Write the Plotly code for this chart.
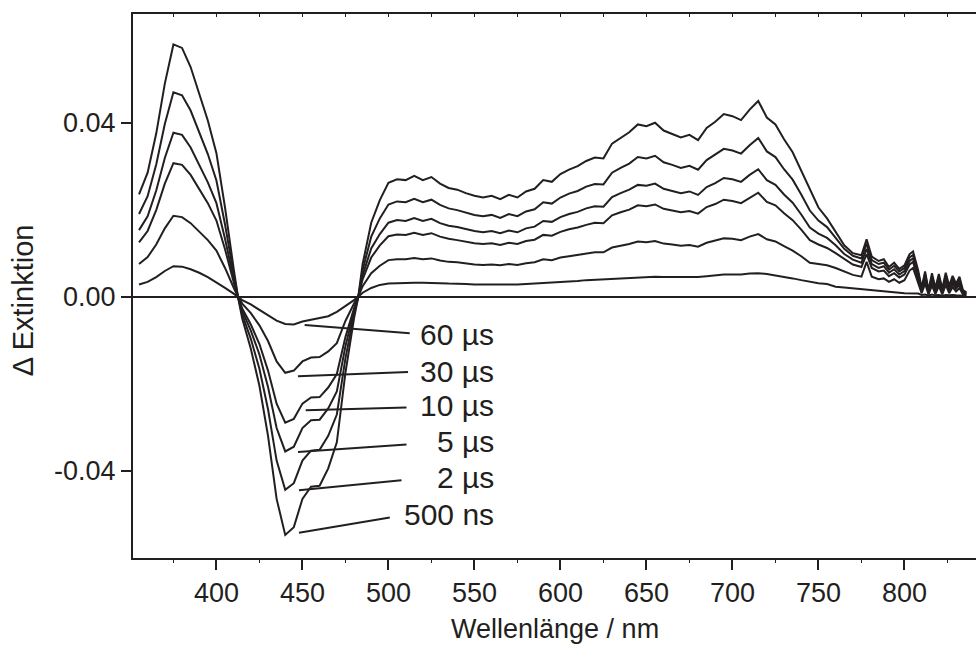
import plotly.graph_objects as go

# wavelength grid (nm)
wavelength = [355, 360, 365, 370, 375, 380, 385, 390, 395, 400, 405, 410,
              412.5,
              415, 420, 425, 430, 435, 440, 445, 450, 455, 460, 465, 470, 475, 480,
              482.5,
              485, 490, 495, 500, 505, 510, 515, 520, 525, 530,
              535, 540, 545, 550, 555, 560, 565, 570, 575, 580,
              585, 590, 595, 600, 605, 610, 615, 620, 625, 630,
              635, 640, 645, 650, 655, 660, 665, 670, 675, 680,
              685, 690, 695, 700, 705, 710, 715, 720, 725, 730,
              735, 740, 745, 750,
              755, 760, 765, 770, 775,
              778, 781, 785, 788, 791, 794, 797, 800, 803, 805, 808,
              810, 812, 814, 816, 818, 820, 822, 824, 826, 828, 830, 832, 834, 836]

# delta extinction for each delay time
ext_500ns = [.0235, .0285, .0375, .0490, .0580, .0572, .0528, .0468, .0405, .0330, .0205, .0065,
             0,
             -.0050, -.0120, -.0205, -.0320, -.0465, -.0548, -.0530, -.0465, -.0437, -.0435, -.0395, -.0335, -.0175, -.0050,
             0,
             .0075, .0170, .0222, .0262, .0270, .0268, .0278, .0268, .0275, .0260,
             .0250, .0246, .0238, .0232, .0228, .0232, .0224, .0234, .0228, .0242,
             .0248, .0268, .0264, .0282, .0292, .0300, .0312, .0320, .0318, .0352,
             .0366, .0378, .0396, .0392, .0400, .0382, .0374, .0366, .0372, .0360,
             .0388, .0402, .0420, .0415, .0406, .0430, .0450, .0412, .0396, .0362,
             .0332, .0290, .0245, .0205,
             .0180, .0148, .0118, .0100, .0095,
             .0132, .0092, .0082, .0086, .0068, .0078, .0064, .0072, .0098, .0104, .0060,
             .0020, .0058, .0015, .0054, .0020, .0052, .0018, .0055, .0025, .0048, .0030, .0046, .0015, .0010]

ext_2us = [.0190, .0231, .0304, .0397, .0470, .0463, .0428, .0379, .0328, .0267, .0166, .0053,
           0,
           -.0041, -.0097, -.0166, -.0259, -.0377, -.0444, -.0429, -.0377, -.0354, -.0352, -.0320, -.0271, -.0142, -.0041,
           0,
           .0061, .0138, .0180, .0212, .0219, .0217, .0225, .0217, .0223, .0211,
           .0203, .0199, .0193, .0188, .0185, .0188, .0181, .0190, .0185, .0196,
           .0201, .0217, .0214, .0228, .0237, .0243, .0253, .0259, .0258, .0285,
           .0296, .0306, .0321, .0318, .0324, .0309, .0303, .0296, .0301, .0292,
           .0314, .0326, .0340, .0336, .0329, .0348, .0365, .0334, .0321, .0293,
           .0269, .0235, .0198, .0175,
           .0160, .0135, .0110, .0094, .0088,
           .0122, .0084, .0075, .0078, .0062, .0071, .0058, .0066, .0090, .0096, .0054,
           .0018, .0052, .0012, .0048, .0016, .0046, .0015, .0049, .0020, .0042, .0026, .0040, .0012, .0008]

ext_5us = [.0153, .0185, .0244, .0319, .0377, .0372, .0343, .0304, .0263, .0215, .0133, .0042,
           0,
           -.0033, -.0078, -.0133, -.0208, -.0302, -.0356, -.0345, -.0302, -.0284, -.0283, -.0257, -.0218, -.0114, -.0033,
           0,
           .0049, .0111, .0144, .0170, .0176, .0174, .0181, .0174, .0179, .0169,
           .0163, .0160, .0155, .0151, .0148, .0151, .0146, .0152, .0148, .0157,
           .0161, .0174, .0172, .0183, .0190, .0195, .0203, .0208, .0207, .0229,
           .0238, .0246, .0257, .0255, .0260, .0248, .0243, .0238, .0242, .0234,
           .0252, .0261, .0273, .0270, .0264, .0280, .0293, .0268, .0257, .0235,
           .0216, .0189, .0159, .0145,
           .0135, .0118, .0098, .0085, .0078,
           .0110, .0075, .0066, .0070, .0055, .0063, .0051, .0059, .0082, .0088, .0048,
           .0015, .0046, .0010, .0042, .0013, .0040, .0012, .0043, .0016, .0036, .0022, .0034, .0010, .0006]

ext_10us = [.0125, .0151, .0199, .0260, .0307, .0303, .0280, .0248, .0215, .0175, .0109, .0034,
            0,
            -.0027, -.0064, -.0109, -.0170, -.0246, -.0290, -.0281, -.0246, -.0232, -.0231, -.0209, -.0178, -.0093, -.0027,
            0,
            .0040, .0090, .0118, .0139, .0143, .0142, .0147, .0142, .0146, .0138,
            .0133, .0130, .0126, .0123, .0121, .0123, .0119, .0124, .0121, .0128,
            .0131, .0142, .0140, .0149, .0155, .0159, .0165, .0170, .0169, .0187,
            .0194, .0200, .0210, .0208, .0212, .0202, .0198, .0194, .0197, .0191,
            .0206, .0213, .0223, .0220, .0215, .0228, .0239, .0218, .0210, .0192,
            .0176, .0154, .0130, .0120,
            .0112, .0100, .0086, .0074, .0068,
            .0098, .0066, .0058, .0060, .0047, .0054, .0044, .0051, .0074, .0080, .0042,
            .0012, .0040, .0008, .0036, .0010, .0034, .0009, .0037, .0012, .0030, .0018, .0028, .0008, .0005]

ext_30us = [.0075, .0091, .0120, .0157, .0186, .0183, .0169, .0150, .0130, .0106, .0066, .0021,
            0,
            -.0016, -.0038, -.0066, -.0102, -.0149, -.0175, -.0170, -.0149, -.0140, -.0139, -.0126, -.0107, -.0056, -.0016,
            0,
            .0024, .0054, .0071, .0084, .0086, .0086, .0089, .0086, .0088, .0083,
            .0080, .0079, .0076, .0074, .0073, .0074, .0072, .0075, .0073, .0077,
            .0079, .0086, .0084, .0090, .0093, .0096, .0100, .0102, .0102, .0113,
            .0117, .0121, .0127, .0125, .0128, .0122, .0120, .0117, .0119, .0115,
            .0124, .0129, .0134, .0133, .0130, .0138, .0144, .0132, .0127, .0116,
            .0106, .0093, .0078, .0075,
            .0072, .0066, .0058, .0050, .0046,
            .0080, .0046, .0040, .0042, .0034, .0040, .0032, .0038, .0060, .0066, .0032,
            .0008, .0030, .0005, .0026, .0006, .0024, .0005, .0027, .0008, .0022, .0012, .0020, .0005, .0003]

ext_60us = [.0028, .0034, .0045, .0059, .0070, .0069, .0063, .0055, .0045, .0033, .0020, .0007,
            0,
            -.0008, -.0018, -.0031, -.0042, -.0055, -.0063, -.0064, -.0057, -.0053, -.0050, -.0045, -.0035, -.0022, -.0008,
            0,
            .0009, .0020, .0027, .0030, .0031, .0032, .0032, .0032, .0032, .0031,
            .0030, .0030, .0029, .0028, .0028, .0027, .0027, .0028, .0028, .0029,
            .0030, .0031, .0032, .0034, .0035, .0036, .0038, .0039, .0040, .0041,
            .0043, .0044, .0045, .0046, .0046, .0045, .0045, .0044, .0044, .0045,
            .0047, .0049, .0051, .0051, .0051, .0053, .0054, .0052, .0049, .0046,
            .0042, .0038, .0034, .0031,
            .0029, .0023, .0021, .0019, .0017,
            .0015, .0014, .0013, .0012, .0011, .0010, .0009, .0008, .0008, .0008, .0007,
            .0004, .0005, .0003, .0005, .0003, .0004, .0002, .0004, .0003, .0004, .0003, .0003, .0002, .0001]

series = [ext_500ns, ext_2us, ext_5us, ext_10us, ext_30us, ext_60us]
delay_labels = ['500 ns', '2 µs', '5 µs', '10 µs', '30 µs', '60 µs']

x_ticks = [400, 450, 500, 550, 600, 650, 700, 750, 800]
y_ticks = [-0.04, 0.0, 0.04]
y_ticktext = ['-0.04', '0.00', '0.04']

for s in series:
    assert len(s) == len(wavelength), len(s)

ink = '#231f20'
font_family = 'Liberation Sans, Arial, sans-serif'

fig = go.Figure()
for s, name in zip(series, delay_labels):
    fig.add_trace(go.Scatter(x=wavelength, y=s, mode='lines', name=name,
                             line=dict(color=ink, width=2)))
# empty trace so the top frame axis gets drawn
fig.add_trace(go.Scatter(x=[None], y=[None], xaxis='x2', mode='lines',
                         showlegend=False, hoverinfo='skip'))

# label positions: (text x, text y, line start x, line start y, line end x, line end y)
label_pos = [
    (562.5, -0.0502, 448.0, -0.0543, 500.8, -0.0508),
    (562.5, -0.0417, 448.0, -0.0445, 507.6, -0.0422),
    (562.5, -0.0334, 447.4, -0.0357, 510.5, -0.0340),
    (562.5, -0.0251, 451.9, -0.0261, 510.5, -0.0255),
    (562.5, -0.0171, 447.4, -0.0183, 511.4, -0.0173),
    (562.5, -0.0088, 451.3, -0.0065, 512.4, -0.0084),
]
for name, (tx, ty, x0, y0, x1, y1) in zip(delay_labels, label_pos):
    fig.add_shape(type='line', xref='x', yref='y', x0=x0, y0=y0, x1=x1, y1=y1,
                  line=dict(color=ink, width=2))
    fig.add_annotation(x=tx, y=ty, xref='x', yref='y', text=name, showarrow=False,
                       xanchor='right', yanchor='middle',
                       font=dict(size=30, color=ink, family=font_family))

# axis titles
fig.add_annotation(x=0.5, y=-0.13, xref='paper', yref='paper', text='Wellenlänge / nm',
                   showarrow=False, xanchor='center', yanchor='middle',
                   font=dict(size=27, color=ink, family=font_family))
fig.add_annotation(x=-0.1305, y=0.474, xref='paper', yref='paper', text='Δ Extinktion',
                   textangle=-90, showarrow=False, xanchor='center', yanchor='middle',
                   font=dict(size=29, color=ink, family=font_family))

fig.update_layout(
    width=976,
    height=649,
    margin=dict(l=133, r=0, t=14, b=91),
    plot_bgcolor='white',
    paper_bgcolor='white',
    showlegend=False,
    font=dict(family=font_family, size=27, color=ink),
    xaxis=dict(range=[351.5, 841.6], tickvals=x_ticks, ticks='outside', ticklen=10,
               tickwidth=2, tickcolor=ink, showline=True, linewidth=2, linecolor=ink,
               showgrid=False, zeroline=False,
               minor=dict(ticks='outside', ticklen=3, tickwidth=1, tickcolor=ink,
                          tick0=0, dtick=25, showgrid=False)),
    xaxis2=dict(range=[351.5, 841.6], overlaying='x', side='top', anchor='y',
                tick0=0, dtick=25, ticks='inside', ticklen=3, tickwidth=1, tickcolor=ink,
                showticklabels=False, showline=True, linewidth=2, linecolor=ink,
                showgrid=False, zeroline=False),
    yaxis=dict(range=[-0.0601, 0.0650], tickvals=y_ticks, ticktext=y_ticktext,
               ticks='outside', ticklen=10, tickwidth=2, tickcolor=ink,
               showline=True, linewidth=2, linecolor=ink, showgrid=False,
               zeroline=True, zerolinewidth=2, zerolinecolor=ink),
)

fig.write_html("out.html", config={'displayModeBar': False},
               post_script="document.body.style.margin='0';")
